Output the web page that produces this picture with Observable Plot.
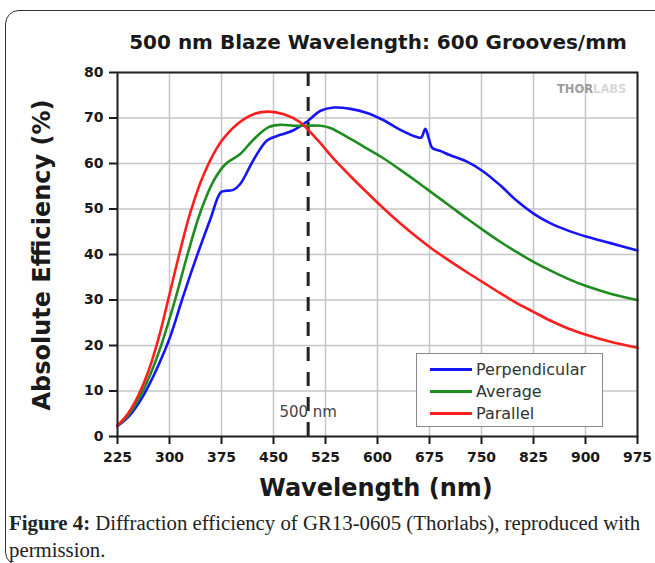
<!DOCTYPE html>
<html><head><meta charset="utf-8">
<script src="https://cdn.jsdelivr.net/npm/d3@7"></script>
<script src="https://cdn.jsdelivr.net/npm/@observablehq/plot@0.6"></script>
<style>
html,body{margin:0;padding:0;background:#fff;width:655px;height:563px;overflow:hidden;}
#wrap{position:relative;width:655px;height:563px;overflow:hidden;background:#fff;}
#box{position:absolute;left:5px;top:10px;width:720px;height:556px;border:1.3px solid #333;border-radius:14px;box-sizing:border-box;}
#title{position:absolute;left:378px;top:31px;transform:translateX(-50%);font-family:"DejaVu Sans";font-weight:bold;font-size:20px;line-height:22px;white-space:nowrap;color:#1a1a1a;}
#chart{position:absolute;left:0;top:0;}
#xtitle{position:absolute;left:376px;top:488px;transform:translate(-50%,-50%);font-family:"DejaVu Sans";font-weight:bold;font-size:24px;white-space:nowrap;color:#1a1a1a;}
#ytitle{position:absolute;left:42px;top:255px;transform:translate(-50%,-50%) rotate(-90deg);font-family:"DejaVu Sans";font-weight:bold;font-size:24px;white-space:nowrap;color:#1a1a1a;}
#legend{position:absolute;left:416px;top:353px;width:187px;height:74px;box-sizing:border-box;border:1.5px solid #888;background:#fff;}
.lrow{position:absolute;left:0;height:20px;display:flex;align-items:center;}
.lsw{width:42px;height:3px;margin-left:13px;margin-right:4px;}
.ltx{font-family:"DejaVu Sans";font-size:16px;color:#333;white-space:nowrap;}
#wm{position:absolute;left:557px;top:82px;font-family:"DejaVu Sans";font-weight:bold;font-size:11.5px;white-space:nowrap;}
#caption{position:absolute;left:9px;top:509px;font-family:"Liberation Serif";font-size:20.8px;line-height:27px;white-space:nowrap;color:#222;}
</style>
</head><body>
<div id="wrap">
  <div id="box"></div>
  <div id="title"></div>
  <div id="chart"></div>
  <div id="wm"><span style="color:#9c9c9c">THOR</span><span style="color:#d8d8d8">LABS</span></div>
  <div id="legend"></div>
  <div id="xtitle"></div>
  <div id="ytitle"></div>
  <div id="caption"><b>Figure 4:</b> Diffraction efficiency of GR13-0605 (Thorlabs), reproduced with<br>permission.</div>
</div>
<script>
const titleText = "500 nm Blaze Wavelength: 600 Grooves/mm";
const xLabel = "Wavelength (nm)";
const yLabel = "Absolute Efficiency (%)";
const xTicks = [225, 300, 375, 450, 525, 600, 675, 750, 825, 900, 975];
const yTicks = [0, 10, 20, 30, 40, 50, 60, 70, 80];
const blaze = 500;
const blazeLabel = "500 nm";
const seriesNames = ["Perpendicular", "Average", "Parallel"];
const seriesColors = ["#1414ff", "#1e8c1e", "#ff1e1e"];

const perpWl = [225,240,255,270,285,300,318,337,359,374,382,392,402,422,441,460,479,499,518,537,561,585,609,633,657,663,669,674,679,690,705,729,753,777,801,825,849,874,902,936,975];
const perpEff = [2.3,4.2,7.2,11.2,16.0,21.5,30.0,38.6,47.8,53.7,54.0,54.2,55.5,61.0,65.1,66.3,67.3,69.3,71.6,72.3,72.0,71.1,69.5,67.4,65.8,65.7,67.6,65.5,63.4,62.8,61.8,60.4,58.2,55.2,51.8,49.0,46.9,45.3,43.9,42.5,40.9];

const avgWl = [225,240,255,270,287,308,326,345,364,381,402,422,443,460,479,500,518,532,561,588,609,633,657,681,705,729,753,777,801,825,849,874,902,936,975];
const avgEff = [2.4,4.6,8.1,12.8,19.6,30.0,40.0,49.5,56.3,59.9,62.1,65.4,68.0,68.5,68.3,68.3,68.3,67.8,65.4,63.0,61.1,58.6,56.0,53.3,50.6,47.9,45.3,42.8,40.5,38.4,36.5,34.7,33.0,31.4,30.0];

const parWl = [225,240,255,270,285,298,314,330,350,374,398,422,443,465,489,500,518,537,561,585,609,633,657,681,705,729,753,777,801,825,849,874,902,936,975];
const parEff = [2.4,5.0,9.0,14.5,22.0,30.0,40.0,49.2,57.8,64.7,68.7,70.9,71.4,70.8,69.0,67.4,64.4,61.0,57.2,53.6,50.1,46.8,43.8,41.0,38.5,36.1,33.8,31.5,29.3,27.4,25.5,23.8,22.3,20.8,19.5];

const rows = [];
[[perpWl, perpEff], [avgWl, avgEff], [parWl, parEff]].forEach(([w, e], i) => {
  w.forEach((wl, j) => rows.push({series: seriesNames[i], wl, eff: e[j]}));
});

document.getElementById("title").textContent = titleText;
document.getElementById("xtitle").textContent = xLabel;
document.getElementById("ytitle").textContent = yLabel;

const legend = document.getElementById("legend");
const rowTops = [5, 27, 49];
seriesNames.forEach((name, i) => {
  const r = document.createElement("div");
  r.className = "lrow";
  r.style.top = rowTops[i] + "px";
  r.innerHTML = `<div class="lsw" style="background:${seriesColors[i]}"></div><div class="ltx">${name}</div>`;
  legend.appendChild(r);
});

const chart = Plot.plot({
  width: 655,
  height: 520,
  marginTop: 72,
  marginLeft: 117,
  marginRight: 18,
  marginBottom: 84,
  x: {domain: [225, 975]},
  y: {domain: [0, 80]},
  color: {domain: seriesNames, range: seriesColors},
  style: {fontFamily: "DejaVu Sans", fontSize: "14px", fontWeight: "bold", color: "#1a1a1a", background: "transparent"},
  marks: [
    Plot.gridX(xTicks, {stroke: "#c6c6c6", strokeOpacity: 1, strokeWidth: 1.5}),
    Plot.gridY(yTicks, {stroke: "#c6c6c6", strokeOpacity: 1, strokeWidth: 1.5}),
    Plot.ruleX([blaze], {stroke: "#222", strokeWidth: 3, strokeDasharray: "14,11"}),
    Plot.line(rows, {x: "wl", y: "eff", z: "series", stroke: "series", strokeWidth: 2.6, curve: "catmull-rom"}),
    Plot.text([blazeLabel], {x: () => blaze, text: d => d, frameAnchor: "bottom", dy: -20, fontWeight: "normal", fontSize: 15, fill: "#444"}),
    Plot.frame({stroke: "#222", strokeWidth: 2}),
    Plot.axisX(xTicks, {label: null, tickSize: 8, tickPadding: 8, strokeWidth: 2, tickFormat: d => String(d)}),
    Plot.axisY(yTicks, {label: null, tickSize: 8, tickPadding: 6, strokeWidth: 2, tickFormat: d => String(d)})
  ]
});
document.getElementById("chart").appendChild(chart);
</script>
</body></html>
